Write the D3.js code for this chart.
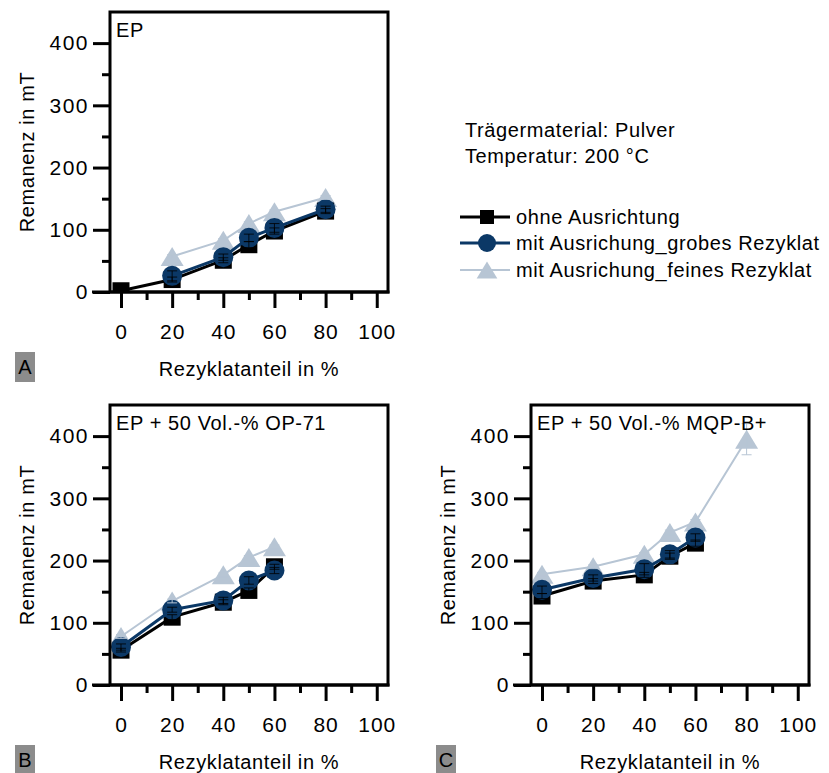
<!DOCTYPE html>
<html><head><meta charset="utf-8">
<script src="https://cdn.jsdelivr.net/npm/d3@7/dist/d3.min.js"></script>
<style>
body{margin:0;background:#fff;}
text{font-family:"Liberation Sans",Arial,sans-serif;fill:#000;letter-spacing:0.6px;}
</style></head>
<body><svg id="c" width="829" height="773"></svg>
<script>
// ---- data ----
const seriesNames = ["ohne Ausrichtung", "mit Ausrichung_grobes Rezyklat", "mit Ausrichung_feines Rezyklat"];
const seriesColors = ["#000000", "#0b3866", "#b7c5d4"];
const panelTitles = ["EP", "EP + 50 Vol.-% OP-71", "EP + 50 Vol.-% MQP-B+"];
const panelLetters = ["A", "B", "C"];
const xTicks = [0, 20, 40, 60, 80, 100];
const yTicks = [0, 100, 200, 300, 400];
const xTitle = "Rezyklatanteil in %";
const yTitle = "Remanenz in mT";
const infoLines = ["Trägermaterial: Pulver", "Temperatur: 200 °C"];

// Panel A (EP)
const A_x_ohne = [0, 20, 40, 50, 60, 80];
const A_ohne   = [2, 20, 51, 76, 98, 130];
const A_ohne_err = [1, 4, 4, 5, 5, 4];
const A_x_grob = [20, 40, 50, 60, 80];
const A_grob   = [26, 56, 87, 103, 133];
const A_grob_err = [8, 5, 6, 7, 5];
const A_x_fein = [20, 40, 50, 60, 80];
const A_fein   = [57, 83, 110, 129, 152];
const A_fein_err = [3, 3, 3, 3, 3];

// Panel B (EP + 50 Vol.-% OP-71)
const B_x_ohne = [0, 20, 40, 50, 60];
const B_ohne   = [56, 109, 133, 152, 190];
const B_ohne_err = [3, 4, 4, 4, 4];
const B_x_grob = [0, 20, 40, 50, 60];
const B_grob   = [61, 121, 136, 168, 184];
const B_grob_err = [5, 4, 5, 6, 5];
const B_x_fein = [0, 20, 40, 50, 60];
const B_fein   = [78, 135, 177, 205, 222];
const B_fein_err = [3, 3, 3, 3, 3];

// Panel C (EP + 50 Vol.-% MQP-B+)
const C_x_ohne = [0, 20, 40, 50, 60];
const C_ohne   = [143, 167, 177, 207, 228];
const C_ohne_err = [4, 4, 4, 5, 5];
const C_x_grob = [0, 20, 40, 50, 60];
const C_grob   = [153, 172, 186, 210, 237];
const C_grob_err = [6, 5, 9, 6, 6];
const C_x_fein = [0, 20, 40, 50, 60, 80];
const C_fein   = [178, 190, 210, 245, 262, 395];
const C_fein_err = [3, 3, 3, 4, 4, 25];

const panels = [
  {x0:110, y0:12, series:[[A_x_ohne,A_ohne,A_ohne_err],[A_x_grob,A_grob,A_grob_err],[A_x_fein,A_fein,A_fein_err]]},
  {x0:110, y0:405, series:[[B_x_ohne,B_ohne,B_ohne_err],[B_x_grob,B_grob,B_grob_err],[B_x_fein,B_fein,B_fein_err]]},
  {x0:531, y0:405, series:[[C_x_ohne,C_ohne,C_ohne_err],[C_x_grob,C_grob,C_grob_err],[C_x_fein,C_fein,C_fein_err]]}
];

const W = 278, H = 280;
const svg = d3.select("#c");
const defs = svg.append("defs");

function marker(g, type, size, color){
  if(type===0){
    g.append("rect").attr("x",-size/2).attr("y",-size/2).attr("width",size).attr("height",size).attr("fill",color);
  } else if(type===1){
    g.append("circle").attr("r",size/2).attr("fill",color);
  } else {
    const s = size*1.15, h = size*0.95;
    g.append("path").attr("d",`M0,${-h/2}L${s/2},${h/2}L${-s/2},${h/2}Z`).attr("fill",color);
  }
}
const mSize = [17, 20, 20];
const lWidth = [3, 3, 2];

panels.forEach((p, pi) => {
  const x = d3.scaleLinear().domain([-4.3, 104.4]).range([p.x0, p.x0 + W]);
  const y = d3.scaleLinear().domain([0, 450]).range([p.y0 + H, p.y0]);
  const g = svg.append("g");
  const cid = "clip" + pi;
  defs.append("clipPath").attr("id", cid).append("rect")
    .attr("x", p.x0).attr("y", p.y0).attr("width", W).attr("height", H);

  const plot = g.append("g").attr("clip-path", `url(#${cid})`);
  const order = [2, 0, 1];
  const line = d3.line().x(d => x(d[0])).y(d => y(d[1]));
  order.forEach(si => {
    const [xs, ys] = p.series[si];
    const pts = xs.map((v, i) => [v, ys[i]]);
    plot.append("path").attr("d", line(pts)).attr("fill", "none")
      .attr("stroke", seriesColors[si]).attr("stroke-width", lWidth[si]);
    pts.forEach(d => {
      const mg = plot.append("g").attr("transform", `translate(${x(d[0])},${y(d[1])})`);
      marker(mg, si, mSize[si], seriesColors[si]);
    });
  });
  // error bars on top
  [0, 1, 2].forEach(si => {
    const [xs, ys, es] = p.series[si];
    const col = si === 2 ? seriesColors[2] : "#000";
    xs.forEach((v, i) => {
      const cx = x(v), top = y(ys[i] + es[i]), bot = y(ys[i] - es[i]);
      plot.append("line").attr("x1", cx).attr("x2", cx).attr("y1", top).attr("y2", bot)
        .attr("stroke", col).attr("stroke-width", 1).attr("opacity", si === 2 ? 1 : 0.8);
      [top, bot].forEach(yy => plot.append("line").attr("x1", cx - 5).attr("x2", cx + 5)
        .attr("y1", yy).attr("y2", yy).attr("stroke", col).attr("stroke-width", 1).attr("opacity", si === 2 ? 1 : 0.8));
    });
  });

  // frame
  g.append("rect").attr("x", p.x0).attr("y", p.y0).attr("width", W).attr("height", H)
    .attr("fill", "none").attr("stroke", "#000").attr("stroke-width", 3);

  // x axis
  const xa = g.append("g").attr("transform", `translate(0,${p.y0 + H})`)
    .call(d3.axisBottom(x).tickValues(xTicks).tickSize(16).tickPadding(16).tickFormat(d3.format("d")));
  xa.select(".domain").remove();
  xa.selectAll(".tick line").attr("stroke", "#000").attr("stroke-width", 3);
  xa.selectAll(".tick text").attr("font-size", 21).attr("dy", "0.72em").style("letter-spacing", "1px");
  const xm = g.append("g").attr("transform", `translate(0,${p.y0 + H})`)
    .call(d3.axisBottom(x).tickValues([10, 30, 50, 70, 90]).tickSize(8).tickFormat(""));
  xm.select(".domain").remove();
  xm.selectAll(".tick line").attr("stroke", "#000").attr("stroke-width", 3);
  // extend bottom line left
  g.append("line").attr("x1", p.x0 - 18).attr("x2", p.x0 + W + 1.5).attr("y1", p.y0 + H).attr("y2", p.y0 + H)
    .attr("stroke", "#000").attr("stroke-width", 3);

  // y axis
  const ya = g.append("g").attr("transform", `translate(${p.x0},0)`)
    .call(d3.axisLeft(y).tickValues(yTicks).tickSize(17).tickPadding(4).tickFormat(d3.format("d")));
  ya.select(".domain").remove();
  ya.selectAll(".tick line").attr("stroke", "#000").attr("stroke-width", 3);
  ya.selectAll(".tick text").attr("font-size", 21).style("letter-spacing", "1.5px");
  const ym = g.append("g").attr("transform", `translate(${p.x0},0)`)
    .call(d3.axisLeft(y).tickValues([50, 150, 250, 350]).tickSize(8).tickFormat(""));
  ym.select(".domain").remove();
  ym.selectAll(".tick line").attr("stroke", "#000").attr("stroke-width", 3);

  // titles
  g.append("text").attr("x", p.x0 + W / 2).attr("y", p.y0 + H + 84).attr("text-anchor", "middle")
    .attr("font-size", 20).text(xTitle);
  g.append("text").attr("transform", `translate(${p.x0 - 76},${p.y0 + H / 2}) rotate(-90)`)
    .attr("text-anchor", "middle").attr("font-size", 20).text(yTitle);
  g.append("text").attr("x", p.x0 + 6).attr("y", p.y0 + 25).attr("font-size", 20).text(panelTitles[pi]);

  // panel letter box
  const lx = p.x0 - 95, ly = p.y0 + H + 60;
  g.append("rect").attr("x", lx).attr("y", ly).attr("width", 20).attr("height", 30).attr("fill", "#8c8c8c");
  g.append("text").attr("x", lx + 10).attr("y", ly + 22).attr("text-anchor", "middle")
    .attr("font-size", 20).style("letter-spacing", "0px").text(panelLetters[pi]);
});

// info text + legend
infoLines.forEach((t, i) => {
  svg.append("text").attr("x", 465).attr("y", 137 + i * 26).attr("font-size", 20).text(t);
});
const legY = [217, 243, 270];
const lmSize = [14, 18, 18];
seriesNames.forEach((n, i) => {
  svg.append("line").attr("x1", 460).attr("x2", 510).attr("y1", legY[i]).attr("y2", legY[i])
    .attr("stroke", seriesColors[i]).attr("stroke-width", lWidth[i]);
  const mg = svg.append("g").attr("transform", `translate(487,${legY[i]})`);
  marker(mg, i, lmSize[i], seriesColors[i]);
  svg.append("text").attr("x", 516).attr("y", legY[i] + 7).attr("font-size", 20).text(n);
});
</script></body></html>
